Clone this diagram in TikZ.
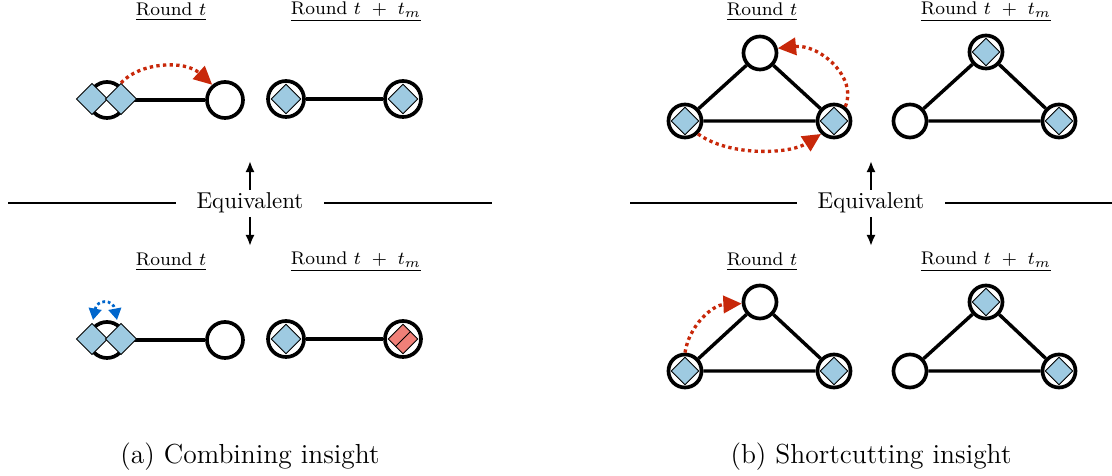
\documentclass[tikz,border=0pt]{standalone}
\usetikzlibrary{arrows.meta,shapes.geometric}
\definecolor{dred}{RGB}{200,40,10}
\definecolor{lblue}{RGB}{158,202,225}
\definecolor{lred}{RGB}{240,128,120}
\definecolor{dblue}{RGB}{0,102,204}
\begin{document}
\begin{tikzpicture}[x=0.436pt,y=-0.436pt,
  vtx/.style={circle,draw,line width=1.6pt,minimum size=15.7pt,inner sep=0pt,fill=white},
  vtxs/.style={circle,draw,line width=1.6pt,minimum size=14.4pt,inner sep=0pt,fill=white},
  tok/.style={diamond,draw,line width=0.4pt,fill=lblue,minimum size=13pt,inner sep=0pt},
  toks/.style={diamond,draw,line width=0.4pt,fill=lblue,minimum size=12.2pt,inner sep=0pt},
  edge/.style={line width=1.5pt},
  movearrow/.style={dred,line width=1.45pt,dash pattern=on 1.45pt off 1.45pt,-{Triangle[length=8pt,width=7.5pt]}},
  mergearrow/.style={dblue,line width=1.2pt,dash pattern=on 1.2pt off 1.2pt,{Triangle[length=5pt,width=5.5pt]}-{Triangle[length=5pt,width=5.5pt]}},
  eqarrow/.style={line width=1pt,-{Latex[length=4.8pt,width=4pt]}},
  rlabel/.style={font=\footnotesize,inner sep=0pt},
  eqlabel/.style={inner xsep=9pt,inner ysep=0pt},
  caplabel/.style={font=\large,inner sep=0pt}
]
\useasboundingbox (0,0) rectangle (1112,476);

% ===================== (a) =====================
\node[rlabel] (la1) at (171,12) {\underline{Round $t$}};
\node[rlabel] (la2) at (356,12) {\underline{Round $t\ +\ t_m$}};
\node[rlabel] (la3) at (171,262) {\underline{Round $t$}};
\node[rlabel] (la4) at (356,262) {\underline{Round $t\ +\ t_m$}};

% top left
\node[vtx] (a1) at (107,100) {};
\node[vtx] (a2) at (225,100) {};
\draw[edge] (a1) -- (a2);
\node[tok,minimum size=13.6pt] (ad1) at (92,99) {};
\node[tok,minimum size=13.6pt] (ad2) at (121,99) {};
\draw[movearrow] (ad2.north) .. controls (140,62) and (185,60) .. (a2.130);

% top right
\node[vtx] (a3) at (286,99) {};
\node[vtx] (a4) at (403,99) {};
\draw[edge] (a3) -- (a4);
\node[tok] (ad3) at (286,99) {};
\node[tok] (ad4) at (403,99) {};

% bottom left
\node[vtx] (b1) at (107,340) {};
\node[vtx] (b2) at (225,340) {};
\draw[edge] (b1) -- (b2);
\node[tok,minimum size=13.6pt] (bd1) at (92,339) {};
\node[tok,minimum size=13.6pt] (bd2) at (121,339) {};
\coordinate (bm1) at (93,320);
\coordinate (bm2) at (117,320);
\draw[mergearrow] (bm1) .. controls (97,299) and (113,299) .. (bm2);

% bottom right
\node[vtx] (b3) at (286,339) {};
\node[vtx] (b4) at (403,339) {};
\draw[edge] (b3) -- (b4);
\node[tok] (bd3) at (286,339) {};
\node[tok,fill=lred] (bd4) at (403,339) {};
\draw[line width=0.4pt] (bd4.north east) -- (bd4.south west);

% equivalent
\node[eqlabel] (ea) at (250,203) {Equivalent};
\coordinate (eaL) at (8,203);
\coordinate (eaR) at (492,203);
\draw[line width=0.7pt] (eaL) -- (ea.west);
\draw[line width=0.7pt] (ea.east) -- (eaR);
\coordinate (eaU0) at (250,190);
\coordinate (eaU1) at (250,161);
\coordinate (eaD0) at (250,217);
\coordinate (eaD1) at (250,246);
\draw[eqarrow] (eaU0) -- (eaU1);
\draw[eqarrow] (eaD0) -- (eaD1);

\node[caplabel] (capa) at (250,457) {(a) Combining insight};

% ===================== (b) =====================
\node[rlabel] (lb1) at (762,12) {\underline{Round $t$}};
\node[rlabel] (lb2) at (986,12) {\underline{Round $t\ +\ t_m$}};
\node[rlabel] (lb3) at (762,262) {\underline{Round $t$}};
\node[rlabel] (lb4) at (986,262) {\underline{Round $t\ +\ t_m$}};

% top left triangle
\node[vtxs] (t1) at (760,53) {};
\node[vtxs] (t2) at (685,121) {};
\node[vtxs] (t3) at (834,121) {};
\draw[edge] (t1) -- (t2) -- (t3) -- (t1);
\node[toks] (td2) at (685,121) {};
\node[toks] (td3) at (834,121) {};
\draw[movearrow] (t3.52) .. controls (858,78) and (820,44) .. (t1.15);
\draw[movearrow] (t2.-45) .. controls (730,157) and (790,154) .. (t3.-135);

% top right triangle
\node[vtxs] (s1) at (986,52) {};
\node[vtxs] (s2) at (910,121) {};
\node[vtxs] (s3) at (1059,121) {};
\draw[edge] (s1) -- (s2) -- (s3) -- (s1);
\node[toks] (sd1) at (986,52) {};
\node[toks] (sd3) at (1059,121) {};

% bottom left triangle
\node[vtxs] (u1) at (760,302) {};
\node[vtxs] (u2) at (685,371) {};
\node[vtxs] (u3) at (834,371) {};
\draw[edge] (u1) -- (u2) -- (u3) -- (u1);
\node[toks] (ud2) at (685,371) {};
\node[toks] (ud3) at (834,371) {};
\draw[movearrow] (u2.north) .. controls (689,326) and (712,305) .. (u1.185);

% bottom right triangle
\node[vtxs] (w1) at (986,302) {};
\node[vtxs] (w2) at (910,371) {};
\node[vtxs] (w3) at (1059,371) {};
\draw[edge] (w1) -- (w2) -- (w3) -- (w1);
\node[toks] (wd1) at (986,302) {};
\node[toks] (wd3) at (1059,371) {};

% equivalent
\node[eqlabel] (eb) at (871,203) {Equivalent};
\coordinate (ebL) at (630,203);
\coordinate (ebR) at (1112,203);
\draw[line width=0.7pt] (ebL) -- (eb.west);
\draw[line width=0.7pt] (eb.east) -- (ebR);
\coordinate (ebU0) at (871,190);
\coordinate (ebU1) at (871,161);
\coordinate (ebD0) at (871,217);
\coordinate (ebD1) at (871,246);
\draw[eqarrow] (ebU0) -- (ebU1);
\draw[eqarrow] (ebD0) -- (ebD1);

\node[caplabel] (capb) at (871,457) {(b) Shortcutting insight};
\end{tikzpicture}
\end{document}
